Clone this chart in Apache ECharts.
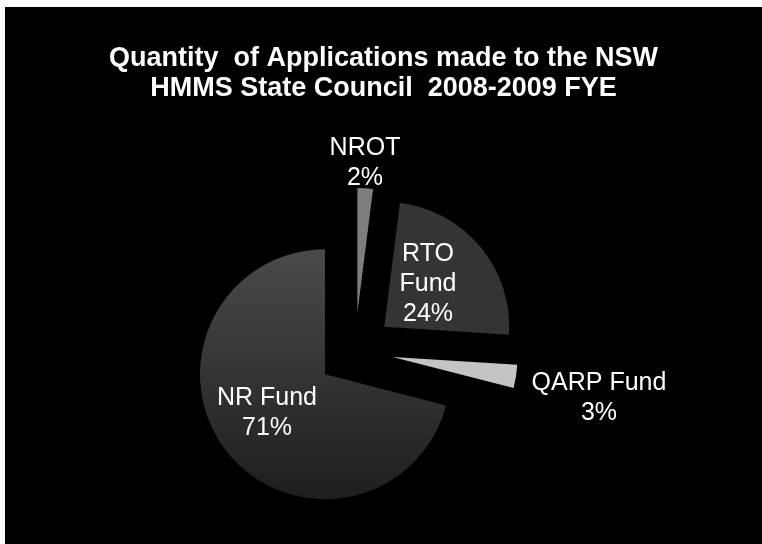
<!DOCTYPE html>
<html>
<head>
<meta charset="utf-8">
<script src="https://cdn.jsdelivr.net/npm/echarts@6/dist/echarts.min.js"></script>
<style>
html, body { margin: 0; padding: 0; background: #ffffff; }
#fye_chart {
  position: absolute;
  left: 5px;
  top: 7px;
  width: 757px;
  height: 537px;
  background: #000000;
}
</style>
</head>
<body>
<div id="fye_chart"></div>
<script>
// applications per fund, 2008-2009 FYE (percent of total)
const fund_names = ["NROT", "RTO Fund", "QARP Fund", "NR Fund"];
const fund_values = [2, 24, 3, 71];
const fund_labels = ["NROT", "RTO\nFund", "QARP Fund", "NR Fund"];

const slice_colors = [
  "#7e7e7e",
  "#343434",
  "#c4c4c4",
  new echarts.graphic.LinearGradient(0, 0, 0, 1, [
    { offset: 0, color: "#4a4a4a" },
    { offset: 1, color: "#1e1e1e" },
  ]),
];
// where each label sits (chart pixels)
const label_spots = [
  [360, 156],
  [423, 277],
  [594, 391],
  [262, 406],
];

const total = fund_values.reduce((a, b) => a + b, 0);

const myChart = echarts.init(document.getElementById("fye_chart"));
const option = {
  backgroundColor: "#000000",
  title: {
    text: "Quantity  of Applications made to the NSW\nHMMS State Council  2008-2009 FYE",
    left: "center",
    top: 32,
    textStyle: {
      color: "#ffffff",
      fontFamily: "Liberation Sans",
      fontWeight: "bold",
      fontSize: 27,
      lineHeight: 30,
    },
  },
  graphic: fund_names.map((name, i) => ({
    type: "text",
    x: label_spots[i][0],
    y: label_spots[i][1],
    z: 100,
    silent: true,
    style: {
      text: fund_labels[i] + "\n" + Math.round((fund_values[i] / total) * 100) + "%",
      fill: "#ffffff",
      font: "25px 'Liberation Sans'",
      lineHeight: 30,
      align: "center",
      verticalAlign: "middle",
    },
  })),
  series: [
    {
      type: "pie",
      center: [350, 344],
      radius: 125,
      startAngle: 90,
      clockwise: true,
      selectedMode: "multiple",
      selectedOffset: 38,
      label: { show: false },
      labelLine: { show: false },
      emphasis: { disabled: true },
      data: fund_names.map((name, i) => ({
        name: name,
        value: fund_values[i],
        selected: true,
        itemStyle: { color: slice_colors[i] },
      })),
    },
  ],
};
myChart.setOption(option, true);
window.addEventListener("resize", () => {
  myChart.resize();
});
</script>
</body>
</html>
